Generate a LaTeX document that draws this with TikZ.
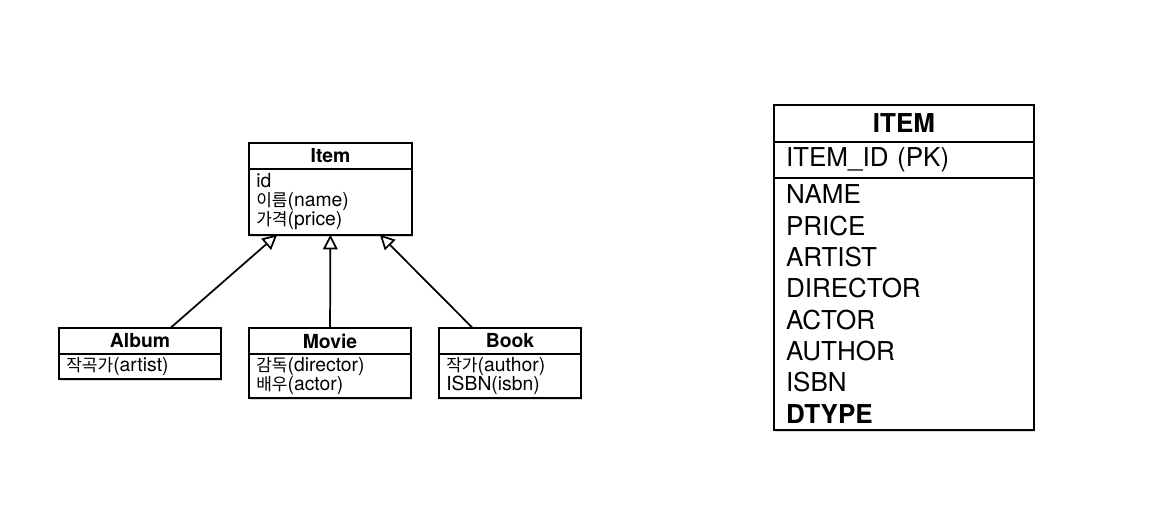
\documentclass[tikz,border=0pt]{standalone}
\usepackage{fontspec}
\setmainfont{TeX Gyre Heros}
\newfontfamily\kr[Scale=0.88]{Noto Sans CJK KR}
\usetikzlibrary{positioning, arrows.meta, shadows}

\begin{document}
\begin{tikzpicture}[x=0.75pt, y=-0.75pt,
  shd/.style={drop shadow={shadow xshift=1pt, shadow yshift=-1.5pt, opacity=.3}},
  cls/.style={draw, line width=1.3pt, fill=white, outer sep=0pt, inner sep=0pt, minimum width=#1, minimum height=19pt, font=\fontsize{14.5}{14}\selectfont\bfseries, shd},
  fld/.style={draw, line width=1.3pt, fill=white, outer sep=0pt, inner ysep=0pt, inner xsep=5.5pt, text width=#1, align=left, font=\fontsize{14.5}{14}\selectfont, shd},
  tbl/.style={draw, line width=2pt, fill=white, outer sep=0pt, inner ysep=0pt, inner xsep=9pt, text width=177pt, font=\fontsize{19.5}{23.5}\selectfont, shd},
  inh/.style={line width=1.3pt, -{Triangle[open, length=11pt, width=11pt]}}]
  \useasboundingbox (0,0) rectangle (1174,521);

  % class diagram
  \node[cls=122.25pt] (item) at (330.5,156) {Item};
  \node[fld=111.25pt, minimum height=49.5pt, below=0pt of item] (item-f) {id\\{\kr 이름}(name)\\{\kr 가격}(price)};
  \node[cls=121.5pt] (album) at (140,341) {Album};
  \node[fld=110.5pt, minimum height=18.75pt, below=0pt of album] (album-f) {{\kr 작곡가}(artist)};
  \node[cls=121.5pt] (movie) at (330,341) {Movie};
  \node[fld=110.5pt, minimum height=33pt, below=0pt of movie] (movie-f) {{\kr 감독}(director)\\{\kr 배우}(actor)};
  \node[cls=106.5pt] (book) at (510,341) {Book};
  \node[fld=95.5pt, minimum height=33pt, below=0pt of book] (book-f) {{\kr 작가}(author)\\ISBN(isbn)};
  \draw[inh] ([xshift=83.25pt]album.north west) -- ([xshift=-40pt]item-f.south);
  \draw[inh] (movie) -- (item-f);
  \draw[inh] ([xshift=25.5pt]book.north west) -- ([xshift=37pt]item-f.south);

  % table
  \node[tbl, align=center, minimum height=27.75pt, font=\fontsize{19.5}{23.5}\selectfont\bfseries] (tab) at (904,123.5) {ITEM};
  \node[tbl, align=left, minimum height=27pt, below=0pt of tab] (tab-pk) {ITEM\_ID (PK)};
  \node[tbl, align=left, minimum height=189pt, below=0pt of tab-pk] (tab-col) {NAME\\PRICE\\ARTIST\\DIRECTOR\\ACTOR\\AUTHOR\\ISBN\\\textbf{DTYPE}};
\end{tikzpicture}
\end{document}
